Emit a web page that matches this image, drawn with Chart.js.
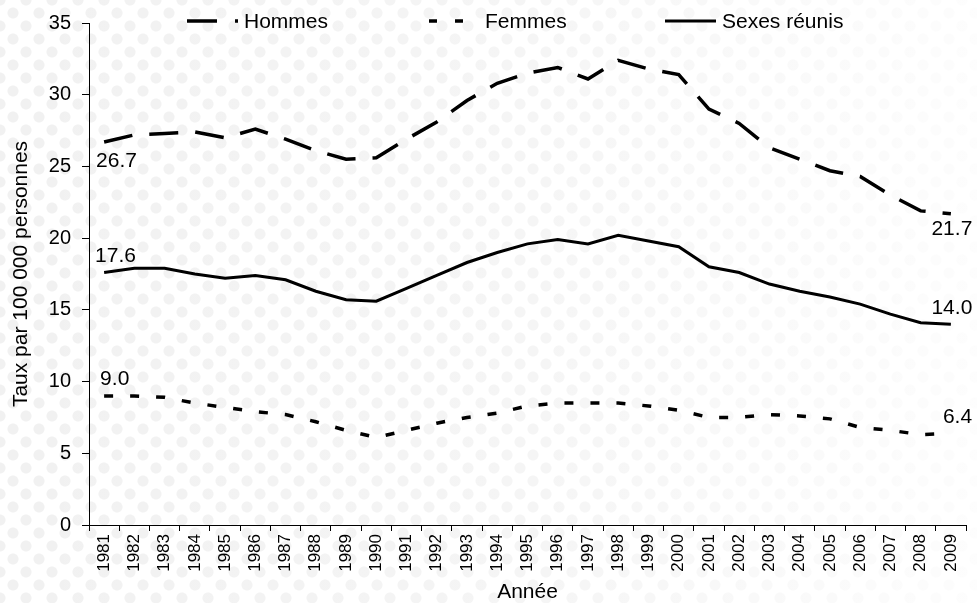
<!DOCTYPE html>
<html>
<head>
<meta charset="utf-8">
<script src="https://cdn.jsdelivr.net/npm/chart.js@4.4.1/dist/chart.umd.min.js"></script>
<style>
  html, body { margin: 0; padding: 0; background: #fff; }
  #wrap {
    width: 977px; height: 603px; position: relative;
    background:
      linear-gradient(to right, rgba(255,255,255,0) 0%, rgba(255,255,255,0.3) 55%, rgba(255,255,255,0.85) 100%),
      radial-gradient(circle at center, #f1f1f1 0 5px, rgba(255,255,255,0) 6px) 0 0 / 26px 26px,
      radial-gradient(circle at center, #f1f1f1 0 5px, rgba(255,255,255,0) 6px) 13px 13px / 26px 26px,
      #fff;
  }
  canvas { display: block; }
</style>
</head>
<body>
<div id="wrap"><canvas id="c" width="977" height="603"></canvas></div>
<script>
const years = ['1981','1982','1983','1984','1985','1986','1987','1988','1989','1990',
  '1991','1992','1993','1994','1995','1996','1997','1998','1999','2000',
  '2001','2002','2003','2004','2005','2006','2007','2008','2009'];
const hommes = [26.7, 27.2, 27.3, 27.4, 27.0, 27.6, 26.9, 26.1, 25.5, 25.6,
  26.9, 28.1, 29.6, 30.8, 31.5, 31.9, 31.1, 32.4, 31.8, 31.4,
  29.0, 28.0, 26.3, 25.5, 24.7, 24.3, 23.0, 21.9, 21.7];
const femmes = [9.0, 9.0, 8.9, 8.5, 8.2, 7.9, 7.7, 7.2, 6.6, 6.1,
  6.6, 7.1, 7.5, 7.8, 8.3, 8.5, 8.5, 8.5, 8.3, 8.0,
  7.5, 7.5, 7.7, 7.6, 7.4, 6.8, 6.6, 6.3, 6.4];
const sexesReunis = [17.6, 17.9, 17.9, 17.5, 17.2, 17.4, 17.1, 16.3, 15.7, 15.6,
  16.5, 17.4, 18.3, 19.0, 19.6, 19.9, 19.6, 20.2, 19.8, 19.4,
  18.0, 17.6, 16.8, 16.3, 15.9, 15.4, 14.7, 14.1, 14.0];
const seriesLabels = ['Hommes', 'Femmes', 'Sexes réunis'];
const yTicks = [0, 5, 10, 15, 20, 25, 30, 35];
const yTitle = 'Taux par 100 000 personnes';
const xTitle = 'Année';

const FONT = '"Liberation Sans", Arial, sans-serif';

// Custom legend drawn over the top of the plot area
const legendPlugin = {
  id: 'customLegend',
  afterDraw(chart, args, opts) {
    const ctx = chart.ctx;
    ctx.save();
    opts.items.forEach((it, i) => {
      const ds = chart.data.datasets[i];
      ctx.strokeStyle = ds.borderColor;
      ctx.lineWidth = ds.borderWidth;
      ctx.setLineDash(it.dash);
      ctx.lineCap = 'butt';
      ctx.beginPath();
      ctx.moveTo(it.x0, opts.y);
      ctx.lineTo(it.x1, opts.y);
      ctx.stroke();
      ctx.setLineDash([]);
      ctx.fillStyle = '#000';
      ctx.font = '21px ' + FONT;
      ctx.textAlign = 'left';
      ctx.textBaseline = 'middle';
      ctx.fillText(ds.label, it.tx, opts.y + 1);
    });
    ctx.restore();
  }
};

// End-point value labels
const endLabelsPlugin = {
  id: 'endLabels',
  afterDatasetsDraw(chart, args, opts) {
    const ctx = chart.ctx;
    ctx.save();
    ctx.fillStyle = '#000';
    ctx.font = '21px ' + FONT;
    ctx.textBaseline = 'middle';
    opts.labels.forEach(l => {
      const meta = chart.getDatasetMeta(l.ds);
      const pt = meta.data[l.idx];
      const v = chart.data.datasets[l.ds].data[l.idx];
      ctx.textAlign = l.align;
      ctx.fillText(v.toFixed(1), pt.x + l.dx, pt.y + l.dy);
    });
    ctx.restore();
  }
};

const last = years.length - 1;

new Chart(document.getElementById('c'), {
  type: 'line',
  data: {
    labels: years,
    datasets: [
      { label: seriesLabels[0], data: hommes, borderColor: '#000', borderWidth: 3.5,
        borderDash: [29, 17], pointRadius: 0, tension: 0, fill: false },
      { label: seriesLabels[1], data: femmes, borderColor: '#000', borderWidth: 3.5,
        borderDash: [9, 17], pointRadius: 0, tension: 0, fill: false },
      { label: seriesLabels[2], data: sexesReunis, borderColor: '#000', borderWidth: 3,
        pointRadius: 0, tension: 0, fill: false }
    ]
  },
  options: {
    responsive: false,
    animation: false,
    events: [],
    layout: { padding: { left: 5, right: 11, top: 21, bottom: 0 } },
    plugins: {
      legend: { display: false },
      tooltip: { enabled: false },
      customLegend: {
        y: 21,
        items: [
          { x0: 187, x1: 239, dash: [30, 18, 3, 60], tx: 244 },
          { x0: 429, x1: 464, dash: [8, 18], tx: 485 },
          { x0: 665, x1: 716, dash: [], tx: 722 }
        ]
      },
      endLabels: {
        labels: [
          { ds: 0, idx: 0, dx: -8, dy: 19, align: 'left' },
          { ds: 0, idx: last, dx: 1, dy: 15, align: 'center' },
          { ds: 2, idx: 0, dx: -9, dy: -16, align: 'left' },
          { ds: 2, idx: last, dx: 1, dy: -16, align: 'center' },
          { ds: 1, idx: 0, dx: -4, dy: -17, align: 'left' },
          { ds: 1, idx: last, dx: -8, dy: -16, align: 'left' }
        ]
      }
    },
    scales: {
      x: {
        type: 'category',
        offset: true,
        grid: { display: true, offset: true, drawOnChartArea: false, drawTicks: true,
                tickLength: 6, color: '#000', lineWidth: 1 },
        border: { display: true, color: '#000', width: 1 },
        ticks: { color: '#000', font: { family: FONT, size: 17 },
                 minRotation: 90, maxRotation: 90, autoSkip: false, padding: 3 },
        title: { display: true, text: xTitle, color: '#000',
                 font: { family: FONT, size: 21, lineHeight: 1.0 },
                 padding: { top: 0, bottom: 0 } },
        afterFit(scale) { scale.height = 78; }
      },
      y: {
        min: 0, max: 35,
        afterBuildTicks(scale) { scale.ticks = yTicks.map(v => ({ value: v })); },
        grid: { display: true, drawOnChartArea: false, drawTicks: true,
                tickLength: 7, color: '#000', lineWidth: 1 },
        border: { display: true, color: '#000', width: 1 },
        ticks: { color: '#000', font: { family: FONT, size: 20 }, padding: 11 },
        title: { display: true, text: yTitle, color: '#000',
                 font: { family: FONT, size: 21 },
                 padding: { top: 4, bottom: 0 } },
        afterFit(scale) { scale.width = 84; }
      }
    }
  },
  plugins: [legendPlugin, endLabelsPlugin]
});
</script>
</body>
</html>
